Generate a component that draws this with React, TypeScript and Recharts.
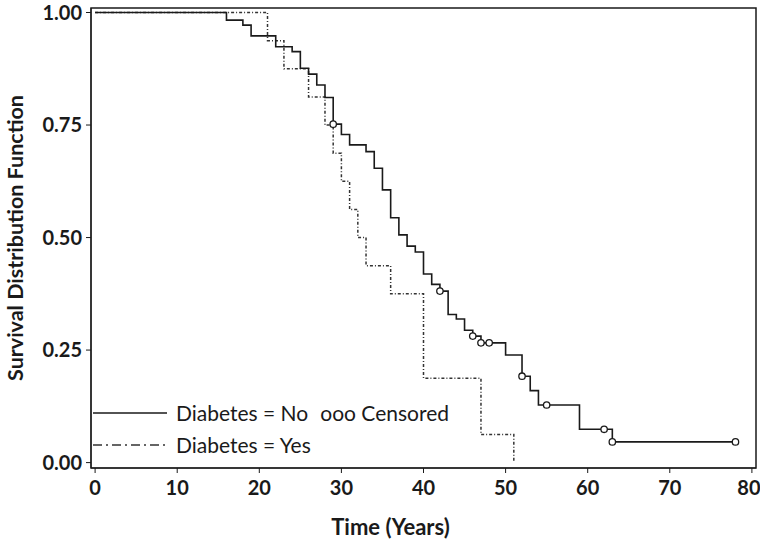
import { ComposedChart, Line, Scatter, XAxis, YAxis, ReferenceArea } from "recharts";

// Kaplan-Meier estimates
const noTimes = [0, 16, 18, 19, 22, 24, 25, 26, 27, 28, 29, 30, 31, 33, 34, 35, 36, 37, 38, 39, 40, 41, 42, 43, 44, 45, 46, 47, 50, 52, 53, 54, 59, 63, 78];
const noSurv = [1, 0.983, 0.972, 0.948, 0.924, 0.913, 0.876, 0.863, 0.839, 0.811, 0.752, 0.729, 0.706, 0.691, 0.654, 0.606, 0.544, 0.506, 0.481, 0.468, 0.419, 0.396, 0.381, 0.329, 0.319, 0.294, 0.281, 0.266, 0.239, 0.192, 0.16, 0.128, 0.074, 0.046, 0.046];

const yesTimes = [0, 21, 23, 26, 28, 29, 30, 31, 32, 33, 36, 40, 47, 51];
const yesSurv = [1, 0.9375, 0.875, 0.8125, 0.75, 0.6875, 0.625, 0.5625, 0.5, 0.4375, 0.375, 0.1875, 0.0625, 0];

const censorTimes = [29, 42, 46, 47, 48, 52, 55, 62, 63, 78];
const censorSurv = [0.752, 0.381, 0.281, 0.266, 0.266, 0.192, 0.128, 0.074, 0.046, 0.046];

const xTicks = [0, 10, 20, 30, 40, 50, 60, 70, 80];
const yTicks = [0, 0.25, 0.5, 0.75, 1];

const noData = noTimes.map((t, i) => ({ t, s: noSurv[i] }));
const yesData = yesTimes.map((t, i) => ({ t, s: yesSurv[i] }));
const censorData = censorTimes.map((t, i) => ({ t, s: censorSurv[i] }));

const FONT = "Lato, 'Open Sans', sans-serif";
const INK = "#1a1a1a";

const CensorMark = (props: any) => {
  const { cx, cy } = props;
  if (cx == null || cy == null) return null;
  return <circle cx={cx} cy={cy} r={3.2} fill="#fff" stroke={INK} strokeWidth={1.3} />;
};

// last x label would run off the page, so nudge it left a little
const XTick = (props: any) => {
  const { x, y, payload } = props;
  const shift = payload.value === 80 ? -3 : 0;
  return (
    <text x={x + shift} y={y} dy="0.71em" textAnchor="middle" fill={INK} fontSize={20} fontWeight={700} fontFamily={FONT}>
      {payload.value}
    </text>
  );
};

// legend sits inside the plot, bottom-left, like the original
const LegendBox = () => (
  <div style={{ position: "absolute", left: 93, top: 397, fontFamily: FONT, fontSize: 21, color: INK, lineHeight: "32px", pointerEvents: "none" }}>
    <div style={{ display: "flex", alignItems: "center" }}>
      <svg width={76} height={10} style={{ marginRight: 7 }}>
        <line x1={0} y1={5} x2={74} y2={5} stroke={INK} strokeWidth={1.5} />
      </svg>
      <span>Diabetes = No</span>
      <span style={{ marginLeft: 12 }}>ooo Censored</span>
    </div>
    <div style={{ display: "flex", alignItems: "center" }}>
      <svg width={76} height={10} style={{ marginRight: 7 }}>
        <line x1={0} y1={5} x2={74} y2={5} stroke="#333" strokeWidth={1.5} strokeDasharray="9 4 2 4" />
      </svg>
      <span>Diabetes = Yes</span>
    </div>
  </div>
);

export default function App() {
  return (
    <div style={{ position: "absolute", left: 0, top: 0, width: 760, height: 540, background: "#fff" }}>
      <ComposedChart width={760} height={540} margin={{ top: 8, right: 4, bottom: 0, left: 0 }}>
        <XAxis
          type="number"
          dataKey="t"
          domain={[-0.5, 80.5]}
          ticks={xTicks}
          allowDataOverflow
          stroke={INK}
          tickSize={5}
          tickMargin={8}
          height={72}
          tick={<XTick />}
          label={{ value: "Time (Years)", position: "insideBottom", offset: 5, dx: -33, fill: INK, fontSize: 22, fontWeight: 700, fontFamily: FONT }}
        />
        <YAxis
          type="number"
          dataKey="s"
          domain={[-0.012, 1.01]}
          ticks={yTicks}
          allowDataOverflow
          width={91}
          stroke={INK}
          tickSize={5}
          tickMargin={4}
          tickFormatter={(v: number) => v.toFixed(2)}
          tick={{ fill: INK, fontSize: 20, fontWeight: 700, fontFamily: FONT }}
          label={{ value: "Survival Distribution Function", angle: -90, position: "insideLeft", offset: 15, style: { textAnchor: "middle" }, fill: INK, fontSize: 21.5, fontWeight: 700, fontFamily: FONT }}
        />
        <ReferenceArea x1={-0.5} x2={80.5} y1={-0.012} y2={1.01} fill="none" stroke={INK} strokeWidth={1.5} />
        <Line data={yesData} dataKey="s" type="stepAfter" stroke="#333" strokeWidth={1.5} strokeDasharray="3 2 1 2" dot={false} isAnimationActive={false} />
        <Line data={noData} dataKey="s" type="stepAfter" stroke={INK} strokeWidth={1.6} dot={false} isAnimationActive={false} />
        <Scatter data={censorData} dataKey="s" shape={<CensorMark />} isAnimationActive={false} />
      </ComposedChart>
      <LegendBox />
    </div>
  );
}
